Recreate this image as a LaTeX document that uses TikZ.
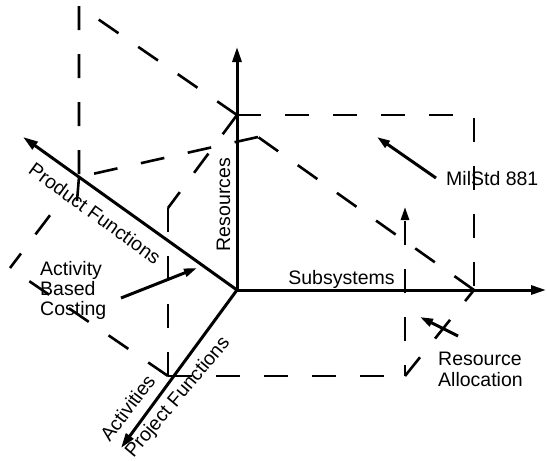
\documentclass[tikz,border=0pt]{standalone}
\usepackage{fontspec}
\setmainfont{Liberation Sans}
\usetikzlibrary{arrows.meta}
\begin{document}
\begin{tikzpicture}[x=1pt,y=-1pt,
  axis/.style={line width=3pt,-{Triangle[length=15pt,width=9pt]}},
  dsh/.style={line width=2.6pt,dash pattern=on 24pt off 24pt},
  ptr/.style={line width=3pt,-{Triangle[length=13pt,width=8pt]}},
  lbl/.style={font=\fontsize{19.5}{20}\selectfont,inner sep=0pt},
  lblb/.style={font=\fontsize{19.5}{21}\selectfont,inner sep=0pt},
]
\useasboundingbox (0,0) rectangle (547,461);
% axes end points
\coordinate (O) at (237,290);
\coordinate (Rt) at (237,47);
\coordinate (St) at (546,290);
\coordinate (Pt) at (23,137);
\coordinate (At) at (121,448);
% corners of the dashed faces
\coordinate (cR) at (237,115);
\coordinate (cRS) at (474,115);
\coordinate (cS) at (474,290);
\coordinate (cRP) at (79,6);
\coordinate (cP) at (79,177);
\coordinate (cPx) at (77,201);
\coordinate (cRA) at (168,208);
\coordinate (cA) at (168,376);
\coordinate (cSA) at (405,376);
\coordinate (cPA) at (10,268);
\coordinate (cSP) at (258,137);
\coordinate (cV) at (405,207);
% dashed faces
\draw[dsh] (cR) -- (cRS) -- (cS);
\draw[dsh] (cR) -- (cRP) -- (cP);
\draw[dsh] (cP) -- (cPx);
\draw[dsh] (cR) -- (cRA);
\draw[dsh] (cRA) -- (cA);
\draw[dsh] (cS) -- (cSP);
\draw[dsh] (cSP) -- (cP);
\draw[dsh,dash pattern=on 0pt off 48pt on 24pt off 24pt on 24pt off 100pt] (cP) -- (cPA);
\draw[dsh] (cA) -- (cPA);
\draw[dsh] (cA) -- (cSA);
\draw[dsh] (cSA) -- (cS);
\draw[dsh,dash phase=13pt,-{Triangle[length=13pt,width=8pt]}] (cSA) -- (cV);
% axes
\draw[axis] (O) -- (Rt);
\draw[axis] (O) -- (St);
\draw[axis] (O) -- (Pt);
\draw[axis] (O) -- (At);
% labels
\node[lbl,anchor=base,rotate=90] (res) at (230,204.5) {Resources};
\node[lbl,anchor=base] (sub) at (341.5,284) {Subsystems};
\node[lbl,anchor=base,rotate=-36] (pf) at (91,219) {Product Functions};
\node[lbl,anchor=base,rotate=53] (act) at (133,412) {Activities};
\node[lbl,anchor=base,rotate=50] (pjf) at (182,401) {Project Functions};
\node[lbl,anchor=base west] (mil) at (446,185) {MilStd 881};
\node[lbl,anchor=north west,align=left] (abc) at (40,261.5) {Activity\\Based\\Costing};
\node[lblb,anchor=north west,align=left] (ral) at (438,352) {Resource\\Allocation};
% pointers
\coordinate (abcT) at (121,298);
\coordinate (abcH) at (197,268);
\coordinate (milT) at (436,178);
\coordinate (milH) at (377,137);
\coordinate (ralT) at (458,336);
\coordinate (ralH) at (420,317);
\draw[ptr] (abcT) -- (abcH);
\draw[ptr] (milT) -- (milH);
\draw[ptr] (ralT) -- (ralH);
\end{tikzpicture}
\end{document}
